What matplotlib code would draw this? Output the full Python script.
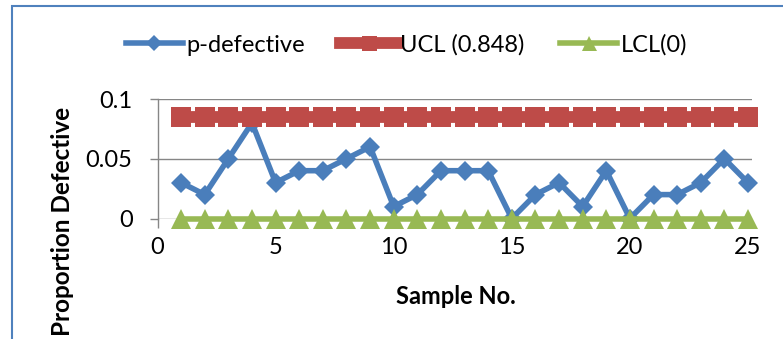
import matplotlib
matplotlib.use("Agg")
import matplotlib.pyplot as plt
import matplotlib.patches as mpatches

# ---------------------------------------------------------------------------
# Data
# ---------------------------------------------------------------------------
samples     = list(range(1, 26))
p_defective = [0.03, 0.02, 0.05, 0.08, 0.03, 0.04, 0.04, 0.05, 0.06, 0.01,
               0.02, 0.04, 0.04, 0.04, 0.00, 0.02, 0.03, 0.01, 0.04, 0.00,
               0.02, 0.02, 0.03, 0.05, 0.03]
ucl_value   = 0.0848
lcl_value   = 0.0
ucl         = [ucl_value] * len(samples)
lcl         = [lcl_value] * len(samples)

series_labels = ["p-defective", "UCL (0.848)", "LCL(0)"]
x_ticks       = [0, 5, 10, 15, 20, 25]
y_ticks       = [0, 0.05, 0.1]
y_tick_labels = ["0", "0.05", "0.1"]

BLUE  = "#4A7EBB"
RED   = "#BE4B48"
GREEN = "#98B954"
GRID  = "#868686"

plt.rcParams["font.family"] = ["Lato", "DejaVu Sans"]
FS = 17

W, H = 783, 339
fig = plt.figure(figsize=(W / 100, H / 100), dpi=100)

# plot area in pixel terms -> figure fractions
left, right, top, bottom = 157.5, 752, 99, 218.5
ax = fig.add_axes([left / W, 1 - bottom / H, (right - left) / W, (bottom - top) / H])

ax.plot(samples, p_defective, color=BLUE, lw=4, marker="D", ms=10.5,
        mfc=BLUE, mec=BLUE, mew=0, clip_on=False, zorder=3,
        label=series_labels[0])
ax.plot(samples, ucl, color=RED, lw=8.5, marker="s", ms=14.4,
        mfc=RED, mec=RED, mew=0, clip_on=False, zorder=4,
        label=series_labels[1])
ax.plot(samples, lcl, color=GREEN, lw=4, marker="^", ms=14.4,
        mfc=GREEN, mec=GREEN, mew=0, clip_on=False, zorder=4,
        label=series_labels[2])

ax.set_xlim(0, 25.17)
ax.set_ylim(0, 0.1)
ax.set_xticks(x_ticks)
ax.set_yticks(y_ticks)
ax.set_yticklabels(y_tick_labels)

ax.set_axisbelow(True)
ax.grid(axis="y", color=GRID, lw=1)
ax.grid(axis="x", visible=False)
for s in ("top", "right", "bottom"):
    ax.spines[s].set_visible(False)
ax.spines["left"].set_color(GRID)
ax.spines["left"].set_linewidth(1)

ax.tick_params(axis="y", length=6, width=1, color=GRID, pad=12, labelsize=FS)
ax.tick_params(axis="x", length=6.5, width=1, color=GRID, pad=7, labelsize=FS)

# axis titles
fig.text(456 / W, 1 - 297 / H, "Sample No.", ha="center", va="center",
         fontsize=17, fontweight="bold")
fig.text(63 / W, 1 - 107 / H, "Proportion Defective", rotation=90,
         ha="center", va="top", fontsize=17.5, fontweight="bold")

# legend across the top
fig.legend(loc="center", bbox_to_anchor=(406.5 / W, 1 - 45 / H), ncol=3,
           frameon=False, fontsize=FS, handlelength=2.4, handletextpad=0.15,
           columnspacing=1.5, markerscale=0.75, borderaxespad=0)

# chart border (cropped on the right / bottom)
fig.patches.append(mpatches.Rectangle((12 / W, -0.5), 2, 1.5 - 6 / H,
                                      transform=fig.transFigure, fill=False,
                                      edgecolor="#4F81BD", lw=1.5))

plt.savefig("out.png", dpi=100)
plt.close()
